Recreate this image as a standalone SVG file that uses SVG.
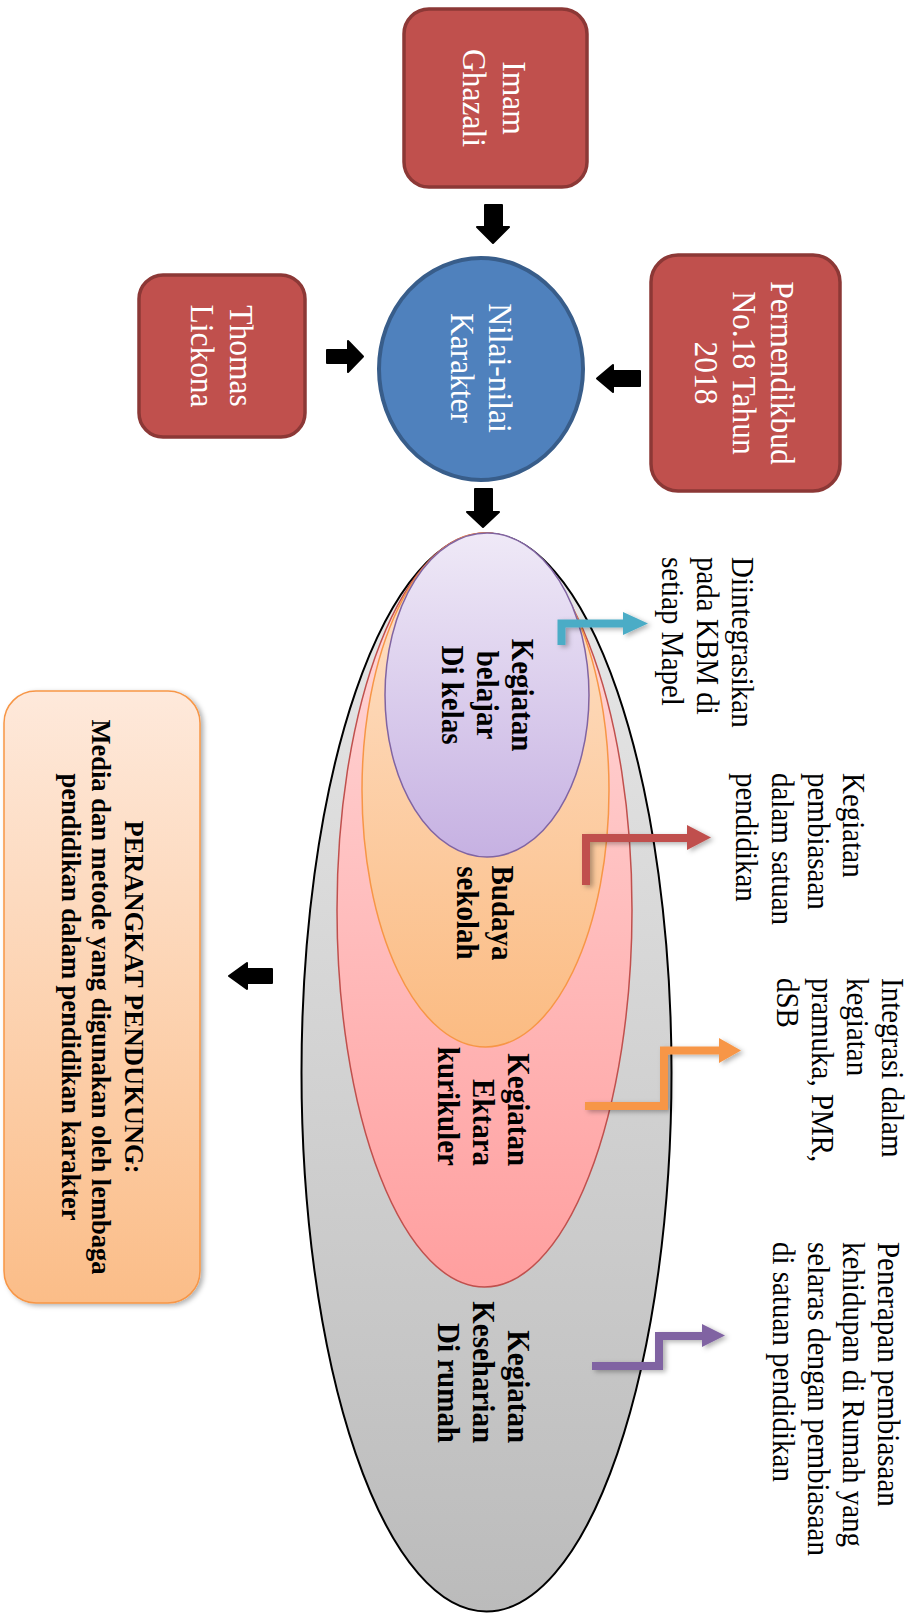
<svg xmlns="http://www.w3.org/2000/svg" width="913" height="1616" viewBox="0 0 913 1616">
<defs>
<style>
.box{fill:#c0504d;stroke:#8c3836;stroke-width:3.5}
.wt{font-family:"Liberation Serif",serif;font-size:31.5px;fill:#fff;text-anchor:middle}
.bt{font-family:"Liberation Serif",serif;font-size:29px;font-weight:bold;fill:#000}
.st{font-family:"Liberation Serif",serif;font-size:29px;fill:#000;text-anchor:start}
.pt{font-family:"Liberation Serif",serif;font-size:26.5px;font-weight:bold;fill:#000;text-anchor:middle}
.blk{fill:#000;stroke:#000;stroke-width:2;stroke-linejoin:round}
.ca{fill:none;stroke-width:8;stroke-linejoin:miter}
</style>
<linearGradient id="gPurple" x1="0" y1="0" x2="0" y2="1"><stop offset="0" stop-color="#efe9f7"/><stop offset="1" stop-color="#c6b1e2"/></linearGradient>
<linearGradient id="gOrange" x1="0" y1="0" x2="0" y2="1"><stop offset="0" stop-color="#fee3cc"/><stop offset="1" stop-color="#fbbb82"/></linearGradient>
<linearGradient id="gPink" x1="0" y1="0" x2="0" y2="1"><stop offset="0" stop-color="#ffdcdc"/><stop offset="1" stop-color="#ff9f9f"/></linearGradient>
<linearGradient id="gGray" x1="0" y1="0" x2="0" y2="1"><stop offset="0" stop-color="#e9e9e9"/><stop offset="1" stop-color="#bbbbbb"/></linearGradient>
<linearGradient id="gBox" x1="0" y1="0" x2="0" y2="1"><stop offset="0" stop-color="#fee9db"/><stop offset="1" stop-color="#fbbd88"/></linearGradient>
<filter id="sh" x="-20%" y="-20%" width="140%" height="140%"><feDropShadow dx="3" dy="2" stdDeviation="2.5" flood-color="#000" flood-opacity="0.3"/></filter>
</defs>

<g id="imam-ghazali">
<rect class="box" x="404" y="9" width="183" height="178" rx="25"/>
<text class="wt" transform="translate(503,98) rotate(90) scale(1,1.1)">Imam</text>
<text class="wt" transform="translate(463,98) rotate(90) scale(1,1.1)">Ghazali</text>
</g>

<g id="thomas-lickona">
<rect class="box" x="139" y="275" width="166" height="162" rx="24"/>
<text class="wt" transform="translate(230,356) rotate(90) scale(1,1.1)">Thomas</text>
<text class="wt" transform="translate(191,356) rotate(90) scale(1,1.1)">Lickona</text>
</g>

<g id="permendikbud">
<rect class="box" x="651" y="255" width="189" height="236" rx="27"/>
<text class="wt" transform="translate(771,373) rotate(90) scale(1,1.1)">Permendikbud</text>
<text class="wt" transform="translate(733,373) rotate(90) scale(1,1.1)">No.18 Tahun</text>
<text class="wt" transform="translate(695,373) rotate(90) scale(1,1.1)">2018</text>
</g>

<g id="nilai-karakter">
<ellipse cx="481" cy="369" rx="102" ry="111" fill="#4f81bd" stroke="#385d8a" stroke-width="4"/>
<text class="wt" transform="translate(489,368) rotate(90) scale(1,1.1)">Nilai-nilai</text>
<text class="wt" transform="translate(451,368) rotate(90) scale(1,1.1)">Karakter</text>
</g>

<g id="kegiatan-keseharian">
<ellipse cx="486.5" cy="1072.5" rx="185" ry="539" fill="url(#gGray)" stroke="#000" stroke-width="2"/>
<text class="bt" text-anchor="end" transform="translate(508,1443) rotate(90) scale(1,1.1)">Kegiatan</text>
<text class="bt" text-anchor="end" transform="translate(473,1443) rotate(90) scale(1,1.1)">Keseharian</text>
<text class="bt" text-anchor="end" transform="translate(438,1443) rotate(90) scale(1,1.1)">Di rumah</text>
</g>

<g id="kegiatan-ektara">
<ellipse cx="484.5" cy="910" rx="147.5" ry="377" fill="url(#gPink)" stroke="#c0504d" stroke-width="1.5"/>
<text class="bt" text-anchor="end" transform="translate(508,1166) rotate(90) scale(1,1.1)">Kegiatan</text>
<text class="bt" text-anchor="end" transform="translate(473,1166) rotate(90) scale(1,1.1)">Ektara</text>
<text class="bt" text-anchor="end" transform="translate(438,1166) rotate(90) scale(1,1.1)">kurikuler</text>
</g>

<g id="budaya-sekolah">
<ellipse cx="485.5" cy="790" rx="123.5" ry="257" fill="url(#gOrange)" stroke="#f79646" stroke-width="1.5"/>
<text class="bt" text-anchor="middle" transform="translate(492,913) rotate(90) scale(1,1.1)">Budaya</text>
<text class="bt" text-anchor="middle" transform="translate(457,913) rotate(90) scale(1,1.1)">sekolah</text>
</g>

<g id="kegiatan-belajar">
<ellipse cx="487" cy="695" rx="102" ry="162" fill="url(#gPurple)" stroke="#8064a2" stroke-width="1.5"/>
<text class="bt" text-anchor="middle" transform="translate(512,695) rotate(90) scale(1,1.1)">Kegiatan</text>
<text class="bt" text-anchor="middle" transform="translate(477,695) rotate(90) scale(1,1.1)">belajar</text>
<text class="bt" text-anchor="middle" transform="translate(442,695) rotate(90) scale(1,1.1)">Di kelas</text>
</g>

<g id="label-kbm">
<text class="st" transform="translate(732,557) rotate(90) scale(1,1.1)">Diintegrasikan</text>
<text class="st" transform="translate(697,557) rotate(90) scale(1,1.1)">pada KBM di</text>
<text class="st" transform="translate(662,557) rotate(90) scale(1,1.1)">setiap Mapel</text>
</g>

<g id="label-pembiasaan">
<text class="st" transform="translate(843,773) rotate(90) scale(1,1.1)">Kegiatan</text>
<text class="st" transform="translate(808,773) rotate(90) scale(1,1.1)">pembiasaan</text>
<text class="st" transform="translate(772,773) rotate(90) scale(1,1.1)">dalam satuan</text>
<text class="st" transform="translate(736,773) rotate(90) scale(1,1.1)">pendidikan</text>
</g>

<g id="label-integrasi">
<text class="st" transform="translate(882,978) rotate(90) scale(1,1.1)">Integrasi dalam</text>
<text class="st" transform="translate(847,978) rotate(90) scale(1,1.1)">kegiatan</text>
<text class="st" transform="translate(812,978) rotate(90) scale(1,1.1)">pramuka, PMR,</text>
<text class="st" transform="translate(777,978) rotate(90) scale(1,1.1)">dSB</text>
</g>

<g id="label-penerapan">
<text class="st" transform="translate(878,1242) rotate(90) scale(1,1.1)">Penerapan pembiasaan</text>
<text class="st" transform="translate(843,1242) rotate(90) scale(1,1.1)">kehidupan di Rumah yang</text>
<text class="st" transform="translate(808,1242) rotate(90) scale(1,1.1)">selaras dengan pembiasaan</text>
<text class="st" transform="translate(773,1242) rotate(90) scale(1,1.1)">di satuan pendidikan</text>
</g>

<g id="perangkat-pendukung">
<rect x="4" y="691" width="196" height="612" rx="32" fill="url(#gBox)" stroke="#f79646" stroke-width="1.5" filter="url(#sh)"/>
<text class="pt" transform="translate(125,997) rotate(90)">PERANGKAT PENDUKUNG:</text>
<text class="pt" transform="translate(92,997) rotate(90)">Media dan metode yang digunakan oleh lembaga</text>
<text class="pt" transform="translate(62,997) rotate(90)">pendidikan dalam pendidikan karakter</text>
</g>

<g id="connectors">
<polygon class="blk" points="485,205 502,205 502,227 509,227 493,243 477,227 485,227"/>
<polygon class="blk" points="327,350 348,350 348,341 363,356.5 348,372 348,363 327,363"/>
<polygon class="blk" points="640,371 613,371 613,365 597,378.5 613,392 613,386 640,386"/>
<polygon class="blk" points="475,489 492,489 492,512 499,512 483,527 467,512 475,512"/>
<polygon class="blk" points="272,969 247,969 247,963 229,976 247,989 247,983 272,983"/>
<g filter="url(#sh)">
<path class="ca" d="M561.5,645 V623.5 H626" stroke="#4bacc6" stroke-width="7"/>
<polygon points="623,612 648,623.5 623,635" fill="#4bacc6"/>
<path class="ca" d="M586,885 V838 H690" stroke="#c0504d" stroke-width="9"/>
<polygon points="687,825 711,837.5 687,850" fill="#c0504d"/>
<path class="ca" d="M585,1106 H664 V1050.5 H721" stroke="#f79646"/>
<polygon points="719,1038 741,1050.5 719,1063" fill="#f79646"/>
<path class="ca" d="M592,1366 H659 V1336 H704" stroke="#8064a2"/>
<polygon points="702,1324 725,1335.5 702,1347" fill="#8064a2"/>
</g>
</g>
</svg>
